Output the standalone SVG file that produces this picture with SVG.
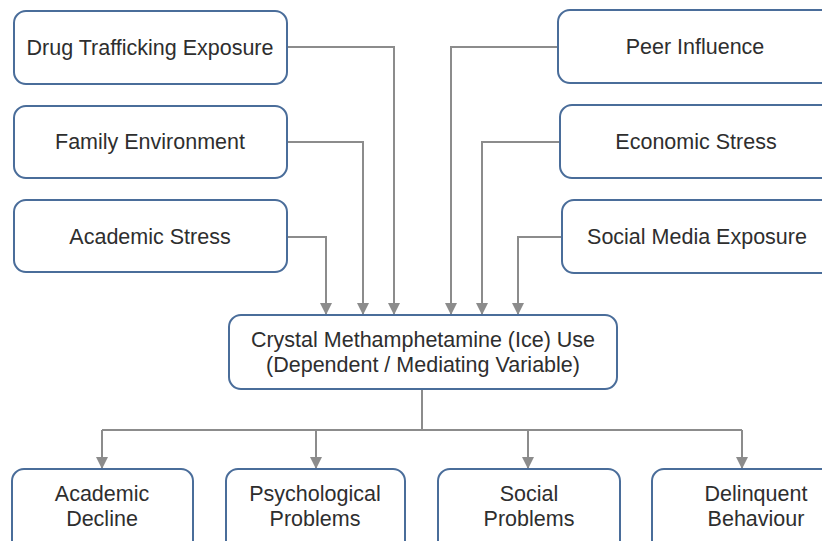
<svg xmlns="http://www.w3.org/2000/svg" width="822" height="541" viewBox="0 0 822 541">
<style>
.box{fill:#ffffff;stroke:#4a6d9a;stroke-width:2}
.t{font-family:"Liberation Sans",Arial,sans-serif;font-size:21.5px;fill:#2e2e2e;text-anchor:middle}
.c{fill:none;stroke:#8c8c8c;stroke-width:2}
</style>
<defs>
<marker id="ah" markerUnits="userSpaceOnUse" markerWidth="12" markerHeight="12" refX="11" refY="6" orient="auto">
<path d="M0,0 L12,6 L0,12 Z" fill="#8c8c8c"/>
</marker>
</defs>
<rect width="822" height="541" fill="#ffffff"/>
<g id="connectors">
<polyline class="c" points="287,47 394,47 394,314" marker-end="url(#ah)"/>
<polyline class="c" points="287,142 363,142 363,314" marker-end="url(#ah)"/>
<polyline class="c" points="287,237 326,237 326,314" marker-end="url(#ah)"/>
<polyline class="c" points="558,47 451,47 451,314" marker-end="url(#ah)"/>
<polyline class="c" points="560,142 482,142 482,314" marker-end="url(#ah)"/>
<polyline class="c" points="562,237 518,237 518,314" marker-end="url(#ah)"/>
<polyline class="c" points="422,389 422,430"/>
<polyline class="c" points="102,430 742,430"/>
<polyline class="c" points="102,430 102,468" marker-end="url(#ah)"/>
<polyline class="c" points="316,430 316,468" marker-end="url(#ah)"/>
<polyline class="c" points="528,430 528,468" marker-end="url(#ah)"/>
<polyline class="c" points="742,430 742,468" marker-end="url(#ah)"/>
</g>
<g id="drug">
<rect class="box" x="14" y="11" width="273" height="73" rx="12"/>
<text class="t" x="150" y="55">Drug Trafficking Exposure</text>
</g>
<g id="family">
<rect class="box" x="14" y="106" width="273" height="72" rx="12"/>
<text class="t" x="150" y="149">Family Environment</text>
</g>
<g id="academicStress">
<rect class="box" x="14" y="200" width="273" height="72" rx="12"/>
<text class="t" x="150" y="244">Academic Stress</text>
</g>
<g id="peer">
<rect class="box" x="558" y="10" width="276" height="73" rx="12"/>
<text class="t" x="695" y="54">Peer Influence</text>
</g>
<g id="economic">
<rect class="box" x="560" y="105" width="276" height="73" rx="12"/>
<text class="t" x="696" y="149">Economic Stress</text>
</g>
<g id="socialMedia">
<rect class="box" x="562" y="200" width="276" height="73" rx="12"/>
<text class="t" x="697" y="244">Social Media Exposure</text>
</g>
<g id="ice">
<rect class="box" x="229" y="315" width="388" height="74" rx="12"/>
<text class="t" x="423" y="347">Crystal Methamphetamine (Ice) Use</text>
<text class="t" x="423" y="372">(Dependent / Mediating Variable)</text>
</g>
<g id="academicDecline">
<rect class="box" x="12" y="469" width="181" height="90" rx="12"/>
<text class="t" x="102" y="501">Academic</text>
<text class="t" x="102" y="526">Decline</text>
</g>
<g id="psychological">
<rect class="box" x="226" y="469" width="179" height="90" rx="12"/>
<text class="t" x="315" y="501">Psychological</text>
<text class="t" x="315" y="526">Problems</text>
</g>
<g id="social">
<rect class="box" x="438" y="469" width="182" height="90" rx="12"/>
<text class="t" x="529" y="501">Social</text>
<text class="t" x="529" y="526">Problems</text>
</g>
<g id="delinquent">
<rect class="box" x="652" y="469" width="208" height="90" rx="12"/>
<text class="t" x="756" y="501">Delinquent</text>
<text class="t" x="756" y="526">Behaviour</text>
</g>
</svg>
